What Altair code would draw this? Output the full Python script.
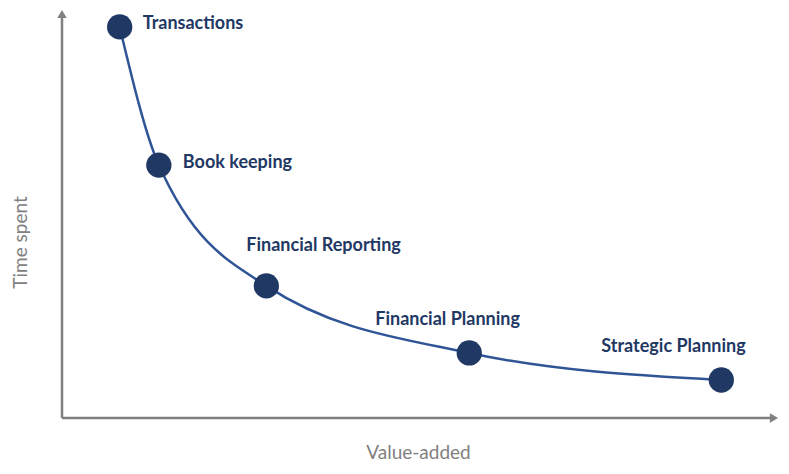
import altair as alt
import pandas as pd

stages = ["Transactions", "Book keeping", "Financial Reporting", "Financial Planning", "Strategic Planning"]
value_added = [8.1, 13.6, 28.7, 57.2, 92.6]
time_spent = [96.8, 62.6, 32.7, 16.1, 9.4]

# label offsets (pixels) relative to each point
label_dx = [23, 24, -20, -94, -120]
label_dy = [-3, -2, -40, -33, -33]

df = pd.DataFrame({"stage": stages, "x": value_added, "y": time_spent,
                   "order": list(range(len(stages)))})

NAVY = "#1f3864"
LINE = "#2f5597"
GRAY = "#808080"

xs = alt.Scale(domain=[0, 100], nice=False, zero=False)
ys = alt.Scale(domain=[0, 100], nice=False, zero=False)

xaxis = alt.Axis(domain=False, ticks=False, labels=False, grid=False, title="Value-added",
                 titleColor=GRAY, titleFont="Lato", titleFontSize=19, titleFontWeight="normal",
                 titlePadding=25)
yaxis = alt.Axis(domain=False, ticks=False, labels=False, grid=False, title="Time spent",
                 titleColor=GRAY, titleFont="Lato", titleFontSize=19, titleFontWeight="normal",
                 titleAngle=-90, titleX=-42, titleY=228, titleAlign="center", titleBaseline="middle")

axes_df = pd.DataFrame({"x0": [0, 0], "y0": [0, 0], "x1": [100, 0], "y1": [0, 100]})
axis_lines = alt.Chart(axes_df).mark_rule(color=GRAY, strokeWidth=2.5).encode(
    x=alt.X("x0:Q", scale=xs, axis=xaxis),
    y=alt.Y("y0:Q", scale=ys, axis=yaxis),
    x2="x1:Q", y2="y1:Q",
)

arrow_x = alt.Chart(pd.DataFrame({"x": [100], "y": [0]})).mark_point(
    shape="triangle-right", filled=True, color=GRAY, size=90, opacity=1).encode(
    x=alt.X("x:Q", scale=xs), y=alt.Y("y:Q", scale=ys))
arrow_y = alt.Chart(pd.DataFrame({"x": [0], "y": [100]})).mark_point(
    shape="triangle-up", filled=True, color=GRAY, size=90, opacity=1).encode(
    x=alt.X("x:Q", scale=xs), y=alt.Y("y:Q", scale=ys))

curve = alt.Chart(df).mark_line(color=LINE, strokeWidth=2.5, interpolate="monotone").encode(
    x=alt.X("x:Q", scale=xs), y=alt.Y("y:Q", scale=ys), order="order:Q")

dots = alt.Chart(df).mark_circle(color=NAVY, size=640, opacity=1).encode(
    x=alt.X("x:Q", scale=xs), y=alt.Y("y:Q", scale=ys))

labels = []
for i, s in enumerate(stages):
    labels.append(
        alt.Chart(df[df["stage"] == s]).mark_text(
            align="left", baseline="middle", dx=label_dx[i], dy=label_dy[i],
            font="Lato", fontSize=18, fontWeight="bold", color=NAVY).encode(
            x=alt.X("x:Q", scale=xs), y=alt.Y("y:Q", scale=ys), text="stage:N")
    )

chart = alt.layer(axis_lines, arrow_x, arrow_y, curve, dots, *labels).properties(
    width=712, height=404,
    padding={"left": 54, "top": 6, "right": 7, "bottom": 48},
    autosize=alt.AutoSizeParams(type="none"),
    background="white",
).configure_view(stroke=None, strokeWidth=0)

chart.save("out.html", embed_options={"renderer": "svg", "actions": False})
